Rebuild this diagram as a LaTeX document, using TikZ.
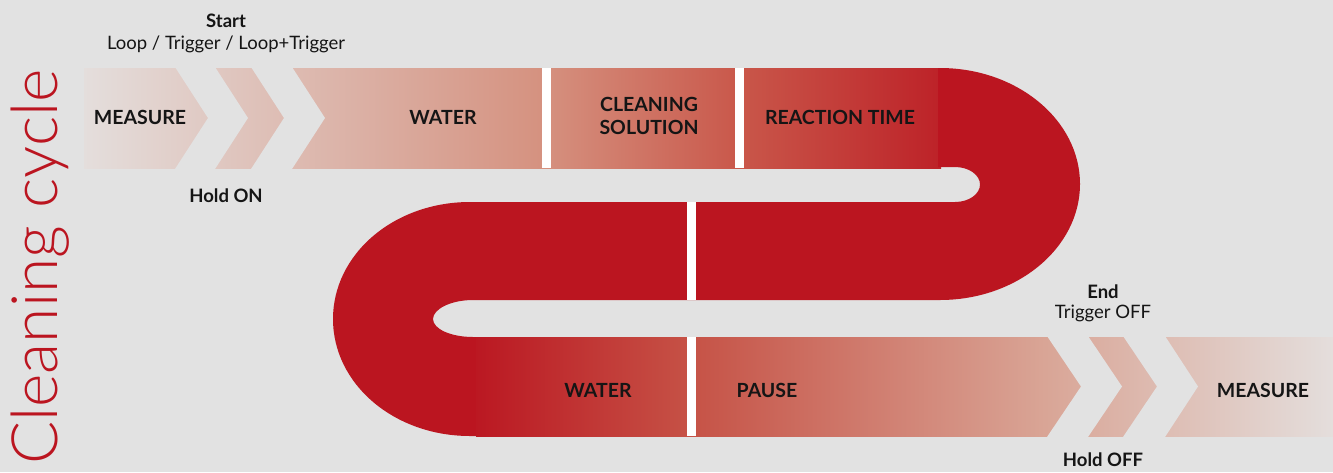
\documentclass[tikz,border=0pt]{standalone}
\usepackage{fontspec}
\setmainfont{Lato}
\newfontfamily\thinfont{Lato Light}

\definecolor{bgc}{HTML}{E2E2E2}
\definecolor{cred}{HTML}{BB1520}
\definecolor{txt}{HTML}{151515}
\definecolor{ta}{HTML}{E4DEDC}
\definecolor{tb}{HTML}{D5917F}
\definecolor{tc}{HTML}{C9574A}
\definecolor{td}{HTML}{BD2228}
\definecolor{ba}{HTML}{BB1822}
\definecolor{bb}{HTML}{C65246}
\definecolor{bc}{HTML}{D9A596}
\definecolor{bd}{HTML}{E4DEDC}

\pgfdeclarehorizontalshading{topband}{100bp}{color(0bp)=(ta); color(25bp)=(ta); color(51.9bp)=(tb); color(63.3bp)=(tc); color(75bp)=(td); color(100bp)=(td)}
\pgfdeclarehorizontalshading{botband}{100bp}{color(0bp)=(ba); color(25bp)=(ba); color(37.5bp)=(bb); color(58.2bp)=(bc); color(75bp)=(bd); color(100bp)=(bd)}

\tikzset{etq/.style={font=\fontsize{19.5}{23}\selectfont\bfseries, text=txt, align=center, inner sep=0pt},
         hdr/.style={font=\fontsize{18.5}{21}\selectfont\bfseries, text=txt, inner sep=0pt},
         sub/.style={font=\fontsize{18.5}{21}\selectfont, text=txt, inner sep=0pt},
         gap/.style={fill=bgc},
         bar/.style={fill=white}}

\begin{document}
\begin{tikzpicture}[x=1pt, y=-1pt]
  \fill[bgc] (0,0) rectangle (1333,472);
  \useasboundingbox (0,0) rectangle (1333,472);
  \shade[shading=topband] (84,68) rectangle (941,168);
  \fill[cred] (938,68) -- (940,68) .. controls (1017,68) and (1080,120) .. (1080,184)
    .. controls (1080,248) and (1017,300) .. (940,300) -- (473,300)
    .. controls (451,300) and (433,309) .. (433,319) .. controls (433,329) and (451,337) .. (473,337)
    -- (480,337) -- (480,436) -- (470,436) .. controls (394,436) and (333,384) .. (333,319)
    .. controls (333,254) and (394,202) .. (470,202) -- (955,202)
    .. controls (969,202) and (980,194) .. (980,184.5) .. controls (980,175) and (969,167) .. (955,167)
    -- (938,167) -- cycle;
  \shade[shading=botband] (476,337) rectangle (1333,436);
  \fill[gap] (175,67) -- (215,67) -- (248,118) -- (215,169) -- (175,169) -- (208,118) -- cycle;
  \fill[gap] (251,67) -- (292,67) -- (325,118) -- (292,169) -- (251,169) -- (284,118) -- cycle;
  \fill[gap] (1047,336) -- (1088,336) -- (1122,386.5) -- (1088,437) -- (1047,437) -- (1081,386.5) -- cycle;
  \fill[gap] (1123,336) -- (1165,336) -- (1198,386.5) -- (1165,437) -- (1123,437) -- (1157,386.5) -- cycle;
  \fill[bar] (542,68) rectangle (551,168);
  \fill[bar] (735,68) rectangle (744,168);
  \fill[bar] (687,202) rectangle (696,300);
  \fill[bar] (687,337) rectangle (696,436);

  \node[etq] (m1) at (140,117) {MEASURE};
  \node[etq] (w1) at (443,117) {WATER};
  \node[etq] (cs) at (649,116) {CLEANING\\SOLUTION};
  \node[etq] (rt) at (840,117) {REACTION TIME};
  \node[etq] (w2) at (598,390) {WATER};
  \node[etq] (ps) at (767,390) {PAUSE};
  \node[etq] (m2) at (1263,390) {MEASURE};
  \node[hdr] (st) at (226,21) {Start};
  \node[sub] (lt) at (226,44) {Loop / Trigger / Loop+Trigger};
  \node[hdr] (hon) at (226,196) {Hold ON};
  \node[hdr] (en) at (1103,292) {End};
  \node[sub] (tof) at (1103,313) {Trigger OFF};
  \node[hdr] (hof) at (1103,460) {Hold OFF};
  \node[rotate=90, anchor=base, inner sep=0pt, text=cred, font=\thinfont\fontsize{64}{64}\selectfont] (ttl) at (57,267) {Cleaning cycle};
\end{tikzpicture}
\end{document}
